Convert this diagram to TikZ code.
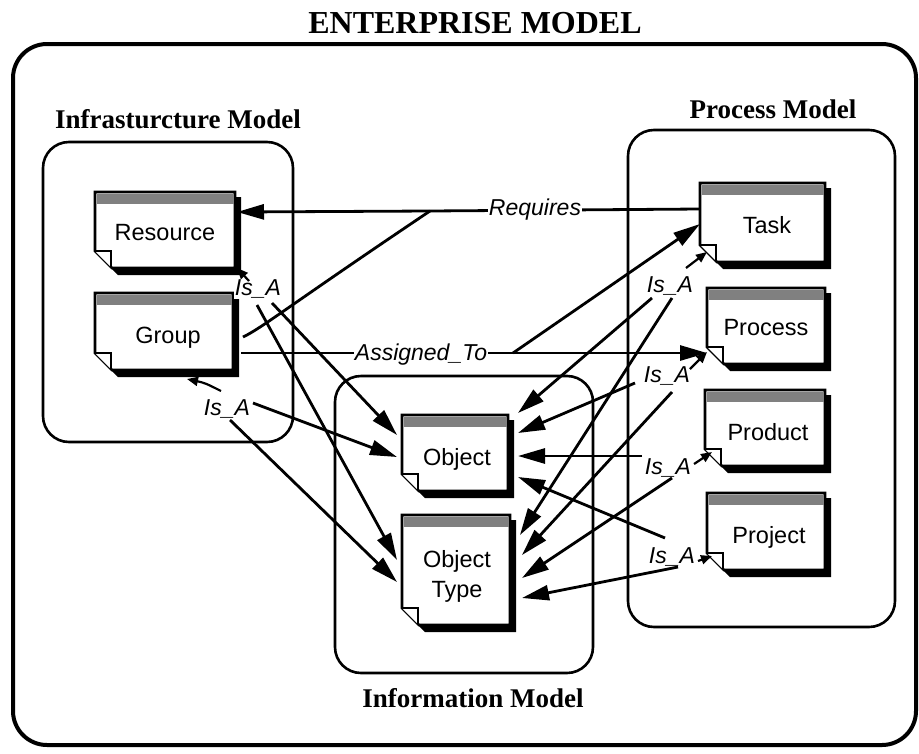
\documentclass[tikz,border=0pt]{standalone}
\usepackage{fontspec}
\setmainfont{Liberation Serif}
\newfontfamily\hv{Liberation Sans}
\usetikzlibrary{arrows.meta}
\tikzset{
  conn/.style={line width=2.8pt, line cap=butt},
  bigarrow/.style={conn, -{Triangle[length=27pt,width=15pt]}},
  smallarrow/.style={line width=2.2pt, -{Triangle[length=11pt,width=9pt]}},
  lbl/.style={font=\hv\itshape\fontsize{23}{26}\selectfont, inner sep=1pt, fill=white, anchor=base},
  boxlbl/.style={font=\hv\fontsize{23.5}{26}\selectfont, inner sep=0pt, anchor=base},
  modelbox/.style={line width=2.6pt, rounded corners=26pt},
  mtitle/.style={font=\fontsize{27}{30}\selectfont\bfseries, inner sep=0pt, anchor=base},
}
\newcommand{\DocBox}[5]{%
  \fill[black] ({#2+6},{#3+5}) -- ({#4+6},{#3+5}) -- ({#4+6},{#5+7}) -- ({#2+23},{#5+7}) -- ({#2+6},{#5-10}) -- cycle;
  \filldraw[fill=white, line width=2.6pt, line join=miter] (#2,#3) -- (#4,#3) -- (#4,#5) -- ({#2+17},#5) -- (#2,{#5-17}) -- cycle;
  \fill[black!50] ({#2+1.5},{#3+1.5}) rectangle ({#4-1.5},{#3+12});
  \draw[line width=1.8pt, fill=white] (#2,{#5-17}) -- ({#2+16},{#5-17}) -- ({#2+16},{#5-1});
  \node[draw=none, inner sep=0pt, minimum width={(#4-#2)*1pt}, minimum height={(#5-#3)*1pt}] (#1) at ({(#2+#4)/2},{(#3+#5)/2}) {};
}
\begin{document}
\begin{tikzpicture}[x=1pt,y=-1pt]
\useasboundingbox (0,0) rectangle (919,753);
% titles
\node[font=\fontsize{32}{36}\selectfont\bfseries, inner sep=0pt, anchor=base] (title) at (475,33) {ENTERPRISE MODEL};
\node[mtitle] (tInf) at (178,128) {Infrasturcture Model};
\node[mtitle] (tProc) at (773,118) {Process Model};
\node[mtitle] (tInfo) at (473,707) {Information Model};
% containers
\draw[line width=4pt, rounded corners=34pt] (13,44) rectangle (916,745);
\draw[modelbox] (43,142) rectangle (293,442);
\draw[modelbox] (628,130) rectangle (895,627);
\draw[modelbox] (335,376) rectangle (593,673);
% document boxes
\DocBox{res}{95}{192}{235}{268}
\node[boxlbl] (resT) at (165,240) {Resource};
\DocBox{grp}{95}{293}{233}{370}
\node[boxlbl] (grpT) at (168,343) {Group};
\DocBox{task}{700}{183}{825}{262}
\node[boxlbl] (taskT) at (767,233) {Task};
\DocBox{proc}{707}{288}{825}{364}
\node[boxlbl] (procT) at (766,335) {Process};
\DocBox{prod}{705}{390}{825}{466}
\node[boxlbl] (prodT) at (768,440) {Product};
\DocBox{proj}{707}{493}{825}{570}
\node[boxlbl] (projT) at (769,543) {Project};
\DocBox{obj}{402}{415}{508}{491}
\node[boxlbl] (objT) at (457,465) {Object};
\DocBox{otyp}{402}{515}{510}{625}
\node[boxlbl] (otypT) at (457,567) {Object};
\node[boxlbl] (otypT2) at (457,597) {Type};
% connector end points
\coordinate (tReq) at (700,209);
\coordinate (J1) at (430,211);
\coordinate (rReq) at (237,212);
\coordinate (gReq) at (243,337);
\coordinate (gAsg) at (241,353);
\coordinate (J2) at (513,353);
\coordinate (pAsg) at (707,353);
\coordinate (tAsg) at (700,224);
\coordinate (oL1) at (397,435);
\coordinate (oL2) at (397,457);
\coordinate (otL1) at (397,560);
\coordinate (otL2) at (397,582);
\coordinate (oR1) at (518,413);
\coordinate (oR2) at (518,433);
\coordinate (oR3) at (518,456);
\coordinate (oR4) at (518,477);
\coordinate (otR1) at (520,535);
\coordinate (otR2) at (522,555);
\coordinate (otR3) at (522,578);
\coordinate (otR4) at (522,598);
% Requires
\draw[bigarrow] (tReq) -- (J1) -- (rReq);
\draw[conn] (J1) .. controls (290,305) and (262,328) .. (gReq);
\node[lbl] (lReq) at (535,215) {Requires};
% Assigned_To
\draw[bigarrow] (gAsg) -- (J2) -- (pAsg);
\draw[bigarrow] (J2) -- (tAsg);
\node[lbl] (lAsg) at (421,360) {Assigned\_To};
% Is_A labels
\node[lbl] (lRes) at (258,295) {Is\_A};
\node[lbl] (lGrp) at (227,415) {Is\_A};
\node[lbl] (lTask) at (670,292) {Is\_A};
\node[lbl] (lProc) at (667,382) {Is\_A};
\node[lbl] (lProd) at (668,474) {Is\_A};
\node[lbl] (lProj) at (672,563) {Is\_A};
% Is_A start points
\coordinate (sR1) at (257,305);
\coordinate (sR2) at (272,303);
\coordinate (sG1) at (253,403);
\coordinate (sG2) at (230,420);
\coordinate (sT1) at (652,298);
\coordinate (sT2) at (672,298);
\coordinate (sP1) at (635,383);
\coordinate (sP2) at (672,392);
\coordinate (sD1) at (642,456);
\coordinate (sD2) at (672,478);
\coordinate (sJ1) at (665,538);
\coordinate (sJ2) at (678,567);
% Is_A arrows
\draw[bigarrow] (sR1) -- (otL1);
\draw[bigarrow] (sR2) -- (oL1);
\draw[bigarrow] (sG1) -- (oL2);
\draw[bigarrow] (sG2) -- (otL2);
\draw[bigarrow] (sT1) -- (oR1);
\draw[bigarrow] (sT2) -- (otR1);
\draw[bigarrow] (sP1) -- (oR2);
\draw[bigarrow] (sP2) -- (otR2);
\draw[bigarrow] (sD1) -- (oR3);
\draw[bigarrow] (sD2) -- (otR3);
\draw[bigarrow] (sJ1) -- (oR4);
\draw[bigarrow] (sJ2) -- (otR4);
% small arrows to the subtypes
\coordinate (cRes) at (237,268);
\coordinate (cGrp) at (187,379);
\coordinate (cTask) at (707,252);
\coordinate (cProc) at (707,352);
\coordinate (cProd) at (712,452);
\coordinate (cProj) at (712,556);
\draw[smallarrow] (249,281) -- (cRes);
\draw[smallarrow] (221,391) .. controls (205,383) .. (cGrp);
\draw[smallarrow] (686,268) -- (cTask);
\draw[smallarrow] (690,369) -- (cProc);
\draw[smallarrow] (694,464) -- (cProd);
\draw[smallarrow] (698,561) -- (cProj);
\end{tikzpicture}
\end{document}
